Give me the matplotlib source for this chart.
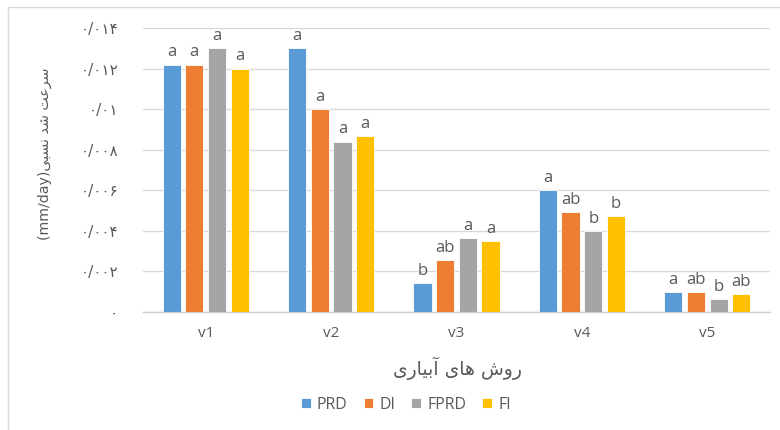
import matplotlib
matplotlib.use("Agg")
import matplotlib.pyplot as plt
import numpy as np
from matplotlib.patches import Rectangle

categories = ["v1", "v2", "v3", "v4", "v5"]
series_names = ["PRD", "DI", "FPRD", "FI"]
prd = [0.0122, 0.0130, 0.00144, 0.0060, 0.0010]
di = [0.0122, 0.0100, 0.00255, 0.00494, 0.0010]
fprd = [0.0130, 0.0084, 0.00363, 0.0040, 0.00063]
fi = [0.0120, 0.00868, 0.0035, 0.00473, 0.00087]
letters_prd = ["a", "a", "b", "a", "a"]
letters_di = ["a", "a", "ab", "ab", "ab"]
letters_fprd = ["a", "a", "a", "b", "b"]
letters_fi = ["a", "a", "a", "b", "ab"]
yticks = [0, 0.002, 0.004, 0.006, 0.008, 0.010, 0.012, 0.014]
ytick_labels = ["\u06f0", "\u06f0/\u06f0\u06f0\u06f2", "\u06f0/\u06f0\u06f0\u06f4",
                "\u06f0/\u06f0\u06f0\u06f6", "\u06f0/\u06f0\u06f0\u06f8", "\u06f0/\u06f0\u06f1",
                "\u06f0/\u06f0\u06f1\u06f2", "\u06f0/\u06f0\u06f1\u06f4"]
# Persian text in visual (shaped) order
ylabel_text = "(mm/day)" + "\ufef0\ufe92\ufeb4\ufee7" + " " + "\ufeaa\ufeb7" + " " + "\ufe96\ufecb\ufeae\ufeb3"
xlabel_text = "\ufeef\ufead\ufe8e\ufef4\ufe91\ufe81" + " " + "\ufeef\ufe8e\ufeeb" + " " + "\ufeb5\ufeed\ufead"

colors = ["#5B9BD5", "#ED7D31", "#A5A5A5", "#FFC000"]
text_color = "#595959"
fam = ["Open Sans", "DejaVu Sans"]
plt.rcParams["font.family"] = fam

fig = plt.figure(figsize=(7.8, 4.3), dpi=100)
ax = fig.add_axes([143/780, 1-312/430, 627/780, 284/430])

# chart frame
fig.patches.append(Rectangle((8/780, -0.1), 1.2, 1 - 7/430 + 0.1, transform=fig.transFigure,
                             fill=False, edgecolor="#D9D9D9", linewidth=1.0, zorder=0))

x = np.arange(len(categories))
pitch = 0.181
width = 0.145
all_vals = [prd, di, fprd, fi]
all_letters = [letters_prd, letters_di, letters_fprd, letters_fi]
for i, (vals, lets) in enumerate(zip(all_vals, all_letters)):
    pos = x + (i - 1.5) * pitch
    ax.bar(pos, vals, width=width, color=colors[i], edgecolor="white", linewidth=0.6,
           label=series_names[i], zorder=3)
    for px_, v, l in zip(pos, vals, lets):
        ax.annotate(l, (px_, v), xytext=(0, 3), textcoords="offset points",
                    ha="center", va="bottom", fontsize=12, color=text_color)

ax.set_xlim(-0.5, 4.5)
ax.set_ylim(0, 0.014)
ax.set_yticks(yticks)
ax.set_yticklabels(ytick_labels, family=["DejaVu Sans"])
ax.set_xticks(x)
ax.set_xticklabels(categories)
ax.tick_params(axis="y", length=0, pad=18, labelsize=11, labelcolor=text_color)
ax.tick_params(axis="x", length=0, pad=10, labelsize=11, labelcolor=text_color)
ax.grid(axis="y", color="#D9D9D9", linewidth=1.0, zorder=0)
ax.set_axisbelow(True)
for s in ["top", "right", "left"]:
    ax.spines[s].set_visible(False)
ax.spines["bottom"].set_color("#D0D0D0")
ax.spines["bottom"].set_linewidth(1.0)

fig.text(45/780, 1-154/430, ylabel_text, rotation=90, ha="center", va="center",
         fontsize=10.2, color=text_color, family=["DejaVu Sans"])
fig.text(457/780, 1-368/430, xlabel_text, ha="center", va="center",
         fontsize=13.5, color=text_color, family=["DejaVu Sans"])

fig.legend(loc="center", bbox_to_anchor=(406/780, 1-405/430), ncol=4, frameon=False,
           fontsize=11.5, handlelength=0.6, handleheight=0.6, handletextpad=0.4,
           columnspacing=1.0, labelcolor=text_color)

fig.savefig("out.png", dpi=100)
